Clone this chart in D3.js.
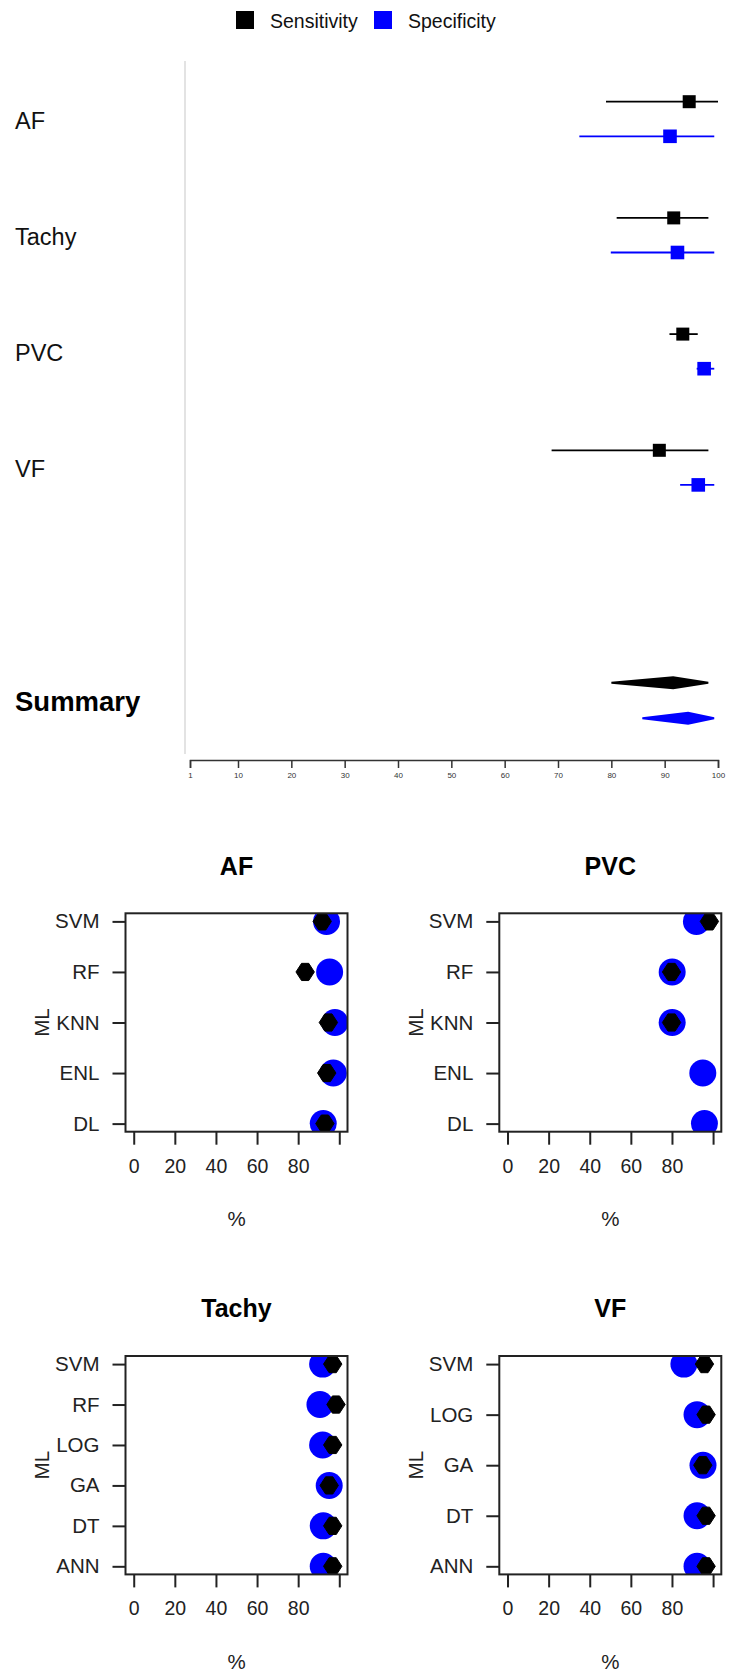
<!DOCTYPE html>
<html><head><meta charset="utf-8">
<script src="https://cdn.jsdelivr.net/npm/d3@7"></script>
<style>
html,body{margin:0;padding:0;background:#fff;}
text{font-family:"Liberation Sans",Arial,Helvetica,sans-serif;}
</style></head>
<body>
<script>
// ---------- DATA ----------
const forestLabels = ["AF", "Tachy", "PVC", "VF"];
const sensEst  = [94.6, 91.7, 93.4, 89.0];
const sensLow  = [79.0, 81.0, 90.9, 68.8];
const sensHigh = [100.0, 98.2, 96.2, 98.2];
const specEst  = [91.0, 92.4, 97.4, 96.3];
const specLow  = [74.0, 79.9, 96.0, 92.9];
const specHigh = [99.3, 99.3, 99.3, 99.3];
const summaryLabel = "Summary";
const summarySens = [80.0, 91.6, 98.2];   // low, est, high
const summarySpec = [85.8, 94.4, 99.3];
const forestTicks = [1, 10, 20, 30, 40, 50, 60, 70, 80, 90, 100];
const legendLabels = ["Sensitivity", "Specificity"];

const panelTitles = ["AF", "PVC", "Tachy", "VF"];
const afModels = ["SVM", "RF", "KNN", "ENL", "DL"];
const afSens = [91.7, 83.4, 94.7, 93.9, 93.0];
const afSpec = [93.8, 95.3, 97.9, 97.1, 92.2];
const pvcModels = ["SVM", "RF", "KNN", "ENL", "DL"];
const pvcSens = [98.2, 79.8, 79.8, null, null];
const pvcSpec = [91.9, 80.1, 80.1, 95.0, 95.8];
const tachyModels = ["SVM", "RF", "LOG", "GA", "DT", "ANN"];
const tachySens = [96.8, 98.4, 96.8, 95.1, 96.8, 96.8];
const tachySpec = [91.9, 90.6, 91.9, 95.1, 92.2, 92.2];
const vfModels = ["SVM", "LOG", "GA", "DT", "ANN"];
const vfSens = [95.8, 96.6, 95.0, 96.6, 96.6];
const vfSpec = [85.8, 92.2, 95.1, 92.2, 92.2];
const panelTicks = [0, 20, 40, 60, 80, 100];
const panelTickLabels = ["0", "20", "40", "60", "80", ""];
const xLabel = "%";
const yLabel = "ML";

// ---------- LAYOUT ----------
const W = 729, H = 1674;
const BLACK = "#000000", BLUE = "#0000ff";
const svg = d3.select("body").append("svg").attr("width", W).attr("height", H)
  .style("display", "block");

// Legend
const legend = svg.append("g");
[[236, BLACK, 270], [374, BLUE, 408]].forEach((p, i) => {
  legend.append("rect").attr("x", p[0]).attr("y", 11).attr("width", 18).attr("height", 18).attr("fill", p[1]);
  legend.append("text").attr("x", p[2]).attr("y", 20.5).attr("dominant-baseline", "central")
    .attr("font-size", 19.5).attr("fill", "#111").text(legendLabels[i]);
});

// Forest plot
const xF = d3.scaleLinear().domain([1, 100]).range([190, 718]);
const rowY = d3.scaleLinear().domain([0, 5]).range([101.7, 682.7]);
const specOff = 34.6;

svg.append("line").attr("x1", 185).attr("x2", 185).attr("y1", 61).attr("y2", 754)
  .attr("stroke", "#d0d0d0").attr("stroke-width", 1.2);

const fg = svg.append("g");
forestLabels.forEach((lab, i) => {
  const y = rowY(i);
  fg.append("text").attr("x", 15).attr("y", y + 19).attr("dominant-baseline", "central")
    .attr("font-size", 23.5).attr("fill", "#111").text(lab);
  // sensitivity
  fg.append("line").attr("x1", xF(sensLow[i])).attr("x2", xF(sensHigh[i])).attr("y1", y).attr("y2", y)
    .attr("stroke", BLACK).attr("stroke-width", 1.8);
  fg.append("rect").attr("x", xF(sensEst[i]) - 6.5).attr("y", y - 6.5).attr("width", 13).attr("height", 13)
    .attr("fill", BLACK);
  // specificity
  const y2 = y + specOff;
  fg.append("line").attr("x1", xF(specLow[i])).attr("x2", xF(specHigh[i])).attr("y1", y2).attr("y2", y2)
    .attr("stroke", BLUE).attr("stroke-width", 1.8);
  fg.append("rect").attr("x", xF(specEst[i]) - 6.8).attr("y", y2 - 6.8).attr("width", 13.6).attr("height", 13.6)
    .attr("fill", BLUE);
});
// summary
{
  const y = rowY(5);
  fg.append("text").attr("x", 15).attr("y", y + 19).attr("dominant-baseline", "central")
    .attr("font-size", 27.5).attr("font-weight", "bold").attr("fill", "#000").text(summaryLabel);
  const dia = (s, yy, col) => {
    const p = [[xF(s[0]), yy - 1], [xF(s[0]), yy + 1], [xF(s[1]), yy + 6.5], [xF(s[2]), yy + 1],
               [xF(s[2]), yy - 1], [xF(s[1]), yy - 6.5]];
    fg.append("path").attr("d", d3.line()(p) + "Z").attr("fill", col);
  };
  dia(summarySens, y, BLACK);
  dia(summarySpec, y + specOff + 1, BLUE);
}
// forest axis
const fAxis = svg.append("g").attr("transform", "translate(0,760)")
  .call(d3.axisBottom(xF).tickValues(forestTicks).tickFormat(d3.format("d")).tickSize(8).tickSizeOuter(8));
fAxis.select(".domain").attr("stroke", "#333").attr("stroke-width", 1.5);
fAxis.selectAll(".tick line").attr("stroke", "#333").attr("stroke-width", 1.5);
fAxis.selectAll(".tick text").attr("font-size", 8).attr("fill", "#333").attr("dy", "0.9em")
  .attr("font-family", "'Liberation Sans',Arial,sans-serif");

// Small multiples
const panels = [
  {title: panelTitles[0], models: afModels, sens: afSens, spec: afSpec, left: 125.5, top: 913.3},
  {title: panelTitles[1], models: pvcModels, sens: pvcSens, spec: pvcSpec, left: 499.3, top: 913.3},
  {title: panelTitles[2], models: tachyModels, sens: tachySens, spec: tachySpec, left: 125.5, top: 1356},
  {title: panelTitles[3], models: vfModels, sens: vfSens, spec: vfSpec, left: 499.3, top: 1356}
];
const pw = 222, ph = 218.4;
const markPath = "M-9.2,0L-3.6,-8.6L3.6,-8.6L9.2,0L3.6,8.6L-3.6,8.6Z";

panels.forEach((P, k) => {
  const g = svg.append("g");
  const x = d3.scaleLinear().domain([-4, 104]).range([P.left, P.left + pw]);
  const n = P.models.length;
  const y = d3.scalePoint().domain(P.models).range([P.top, P.top + ph]).padding(0.04 * (n - 1));
  const clipId = "clip" + k;
  svg.append("clipPath").attr("id", clipId).append("rect")
    .attr("x", P.left).attr("y", P.top).attr("width", pw).attr("height", ph);

  const pts = g.append("g").attr("clip-path", `url(#${clipId})`);
  P.models.forEach((m, i) => {
    if (P.spec[i] != null)
      pts.append("circle").attr("cx", x(P.spec[i])).attr("cy", y(m)).attr("r", 13.5).attr("fill", BLUE);
  });
  P.models.forEach((m, i) => {
    if (P.sens[i] != null)
      pts.append("path").attr("d", markPath)
        .attr("transform", `translate(${x(P.sens[i])},${y(m)})`)
        .attr("fill", BLACK).attr("stroke", BLACK).attr("stroke-width", 1).attr("stroke-linejoin", "round");
  });

  // box
  g.append("rect").attr("x", P.left).attr("y", P.top).attr("width", pw).attr("height", ph)
    .attr("fill", "none").attr("stroke", "#222").attr("stroke-width", 2);

  // y axis
  const ya = g.append("g").attr("transform", `translate(${P.left},0)`)
    .call(d3.axisLeft(y).tickSize(13).tickSizeOuter(0).tickPadding(13));
  ya.select(".domain").remove();
  ya.selectAll(".tick line").attr("stroke", "#222").attr("stroke-width", 2);
  ya.selectAll(".tick text").attr("font-size", 20.5).attr("fill", "#222")
    .attr("font-family", "'Liberation Sans',Arial,sans-serif");

  // x axis
  const xa = g.append("g").attr("transform", `translate(0,${P.top + ph})`)
    .call(d3.axisBottom(x).tickValues(panelTicks).tickFormat((d, i) => panelTickLabels[i])
      .tickSize(13).tickSizeOuter(0).tickPadding(14));
  xa.select(".domain").remove();
  xa.selectAll(".tick line").attr("stroke", "#222").attr("stroke-width", 2);
  xa.selectAll(".tick text").attr("font-size", 19.5).attr("fill", "#222")
    .attr("font-family", "'Liberation Sans',Arial,sans-serif");

  // title
  const cx = P.left + pw / 2;
  g.append("text").attr("x", cx).attr("y", P.top - 47.6).attr("text-anchor", "middle")
    .attr("dominant-baseline", "central").attr("font-size", 25).attr("font-weight", "bold")
    .attr("fill", "#000").text(P.title);
  // x label
  g.append("text").attr("x", cx).attr("y", P.top + ph + 87).attr("text-anchor", "middle")
    .attr("dominant-baseline", "central").attr("font-size", 20.5).attr("fill", "#222").text(xLabel);
  // y label
  g.append("text").attr("transform", `translate(${P.left - 84},${P.top + ph / 2}) rotate(-90)`)
    .attr("text-anchor", "middle").attr("dominant-baseline", "central")
    .attr("font-size", 20.5).attr("fill", "#222").text(yLabel);
});
</script>
</body></html>
